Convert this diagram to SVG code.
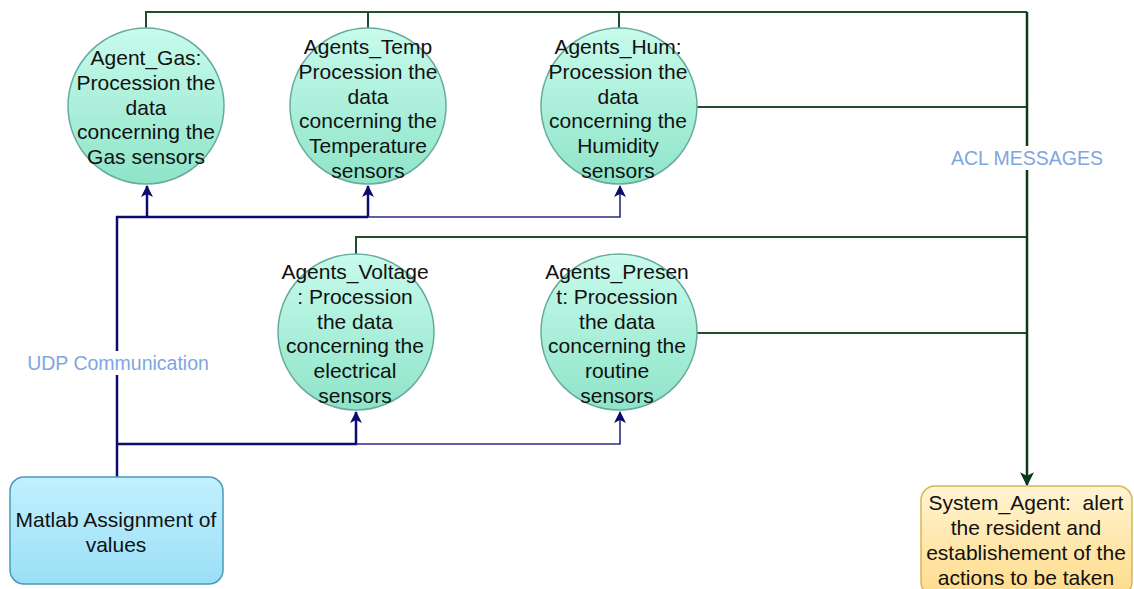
<svg xmlns="http://www.w3.org/2000/svg" width="1134" height="589" viewBox="0 0 1134 589">
  <defs>
    <linearGradient id="agentFill" x1="0" y1="0" x2="0" y2="1">
      <stop offset="0" stop-color="#c8fbec"/>
      <stop offset="1" stop-color="#8ee4c8"/>
    </linearGradient>
    <linearGradient id="matlabFill" x1="0" y1="0" x2="0" y2="1">
      <stop offset="0" stop-color="#c2f0ff"/>
      <stop offset="1" stop-color="#9adff6"/>
    </linearGradient>
    <linearGradient id="systemFill" x1="0" y1="0" x2="0" y2="1">
      <stop offset="0" stop-color="#fff4d2"/>
      <stop offset="1" stop-color="#ffdc8a"/>
    </linearGradient>
    <marker id="arrowBlue" viewBox="0 0 12 12" refX="11" refY="6" markerWidth="12" markerHeight="12" markerUnits="userSpaceOnUse" orient="auto">
      <path d="M0,0 L12,6 L0,12 L3,6 Z" fill="#0c0c6e"/>
    </marker>
    <marker id="arrowGreen" viewBox="0 0 12 12" refX="11" refY="6" markerWidth="14" markerHeight="14" markerUnits="userSpaceOnUse" orient="auto">
      <path d="M0,0 L12,6 L0,12 L3,6 Z" fill="#0a3a1c"/>
    </marker>
  </defs>
  <style>
    .agent { fill: url(#agentFill); stroke: #67ab9f; stroke-width: 1.5; }
    .txt { font-family: "Liberation Sans", Arial, sans-serif; font-size: 21px; fill: #111111; text-anchor: middle; }
    .lbl { font-family: "Liberation Sans", Arial, sans-serif; font-size: 19.5px; fill: #7ea6e0; text-anchor: middle; }
    .acl { fill: none; stroke: #1f4d2e; stroke-width: 2; }
    .udp { fill: none; stroke: #0c0c6e; stroke-width: 2.5; }
    .udpThin { fill: none; stroke: #2a2a86; stroke-width: 1.6; }
  </style>

  <!-- connectors -->
  <g id="connectors">
    <!-- ACL message bus towards the system agent -->
    <path class="acl" d="M146,28 V12 H1027"/>
    <path class="acl" d="M368,28 V12"/>
    <path class="acl" d="M619,28 V12"/>
    <path class="acl" d="M697,107 H1027"/>
    <path class="acl" d="M356,254 V237 H1027"/>
    <path class="acl" d="M697,333 H1027"/>
    <path fill="none" stroke="#0a3a1c" stroke-width="2.5" d="M1027,12 V485" marker-end="url(#arrowGreen)"/>
    <!-- UDP distribution from Matlab -->
    <path class="udp" d="M117,477 V217 H368"/>
    <path class="udp" d="M147,217 V186" marker-end="url(#arrowBlue)"/>
    <path class="udp" d="M368,217 V186" marker-end="url(#arrowBlue)"/>
    <path class="udpThin" d="M368,217 H620 V186" marker-end="url(#arrowBlue)"/>
    <path class="udp" d="M117,444 H356 V412" marker-end="url(#arrowBlue)"/>
    <path class="udpThin" d="M356,444 H620 V412" marker-end="url(#arrowBlue)"/>
    <!-- edge labels -->
    <rect x="946" y="146" width="162" height="24" fill="#ffffff"/>
    <text class="lbl" x="1027" y="165">ACL MESSAGES</text>
    <rect x="26" y="351" width="184" height="24" fill="#ffffff"/>
    <text class="lbl" x="118" y="370">UDP Communication</text>
  </g>

  <g id="agent-gas">
    <circle class="agent" cx="146" cy="106" r="78"/>
    <text class="txt" x="146" y="65">Agent_Gas:<tspan x="146" dy="24.8">Procession the</tspan><tspan x="146" dy="24.8">data</tspan><tspan x="146" dy="24.8">concerning the</tspan><tspan x="146" dy="24.8">Gas sensors</tspan></text>
  </g>

  <g id="agent-temp">
    <circle class="agent" cx="368" cy="106" r="78"/>
    <text class="txt" x="368" y="54">Agents_Temp<tspan x="368" dy="24.8">Procession the</tspan><tspan x="368" dy="24.8">data</tspan><tspan x="368" dy="24.8">concerning the</tspan><tspan x="368" dy="24.8">Temperature</tspan><tspan x="368" dy="24.8">sensors</tspan></text>
  </g>

  <g id="agent-hum">
    <circle class="agent" cx="619" cy="106" r="78"/>
    <text class="txt" x="618" y="54">Agents_Hum:<tspan x="618" dy="24.8">Procession the</tspan><tspan x="618" dy="24.8">data</tspan><tspan x="618" dy="24.8">concerning the</tspan><tspan x="618" dy="24.8">Humidity</tspan><tspan x="618" dy="24.8">sensors</tspan></text>
  </g>

  <g id="agent-voltage">
    <circle class="agent" cx="356" cy="332" r="78"/>
    <text class="txt" x="355" y="279">Agents_Voltage<tspan x="355" dy="24.8">: Procession</tspan><tspan x="355" dy="24.8">the data</tspan><tspan x="355" dy="24.8">concerning the</tspan><tspan x="355" dy="24.8">electrical</tspan><tspan x="355" dy="24.8">sensors</tspan></text>
  </g>

  <g id="agent-present">
    <circle class="agent" cx="619" cy="332" r="78"/>
    <text class="txt" x="617" y="279">Agents_Presen<tspan x="617" dy="24.8">t: Procession</tspan><tspan x="617" dy="24.8">the data</tspan><tspan x="617" dy="24.8">concerning the</tspan><tspan x="617" dy="24.8">routine</tspan><tspan x="617" dy="24.8">sensors</tspan></text>
  </g>

  <g id="matlab">
    <rect x="10" y="477" width="213" height="107" rx="14" ry="14" fill="url(#matlabFill)" stroke="#4a9ab8" stroke-width="1.5"/>
    <text class="txt" x="116" y="527">Matlab Assignment of<tspan x="116" dy="25">values</tspan></text>
  </g>

  <g id="system-agent">
    <rect x="921" y="486" width="211" height="110" rx="14" ry="14" fill="url(#systemFill)" stroke="#d6b656" stroke-width="1.5"/>
    <text class="txt" x="1026" y="510">System_Agent:&#160; alert<tspan x="1026" dy="25">the resident and</tspan><tspan x="1026" dy="25">establishement of the</tspan><tspan x="1026" dy="25">actions to be taken</tspan></text>
  </g>
</svg>
